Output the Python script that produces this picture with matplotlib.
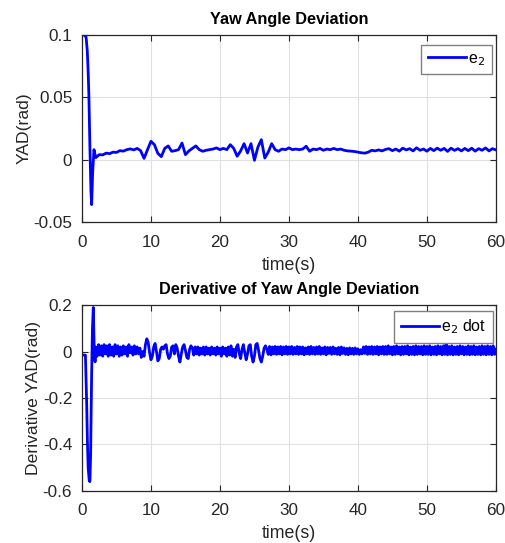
import numpy as np
import matplotlib
matplotlib.use("Agg")
import matplotlib.pyplot as plt

plt.rcParams['font.family'] = ['Liberation Sans', 'DejaVu Sans']

# ---- e2 (yaw angle deviation) ----
# start-up transient
e2_t0 = [0, 0.3, 0.6, 0.77, 0.9, 1.0, 1.15, 1.3, 1.4, 1.55, 1.74]
e2_v0 = [0.1, 0.1, 0.098, 0.087, 0.07, 0.052, 0.01, -0.025, -0.036, -0.01, 0.008]
# then sampled every 0.5 s from t = 2.0
e2_start, e2_dt = 2.0, 0.5
e2_v = [
    0.0016, 0.004, 0.0038, 0.0052, 0.0048, 0.006, 0.0058, 0.0072, 0.0068, 0.008,   # 2 - 6.5
    0.0086, 0.0078, 0.009, 0.0072, 0.001, 0.008, 0.0147, 0.012, 0.005, 0.0024,     # 7 - 11.5
    0.009, 0.011, 0.0067, 0.0072, 0.008, 0.0133, 0.004, 0.007, 0.009, 0.011,       # 12 - 16.5
    0.008, 0.0067, 0.0075, 0.008, 0.0085, 0.0094, 0.008, 0.009, 0.008, 0.012,      # 17 - 21.5
    0.009, 0.0027, 0.007, 0.0128, 0.0053, 0.0128, -0.0005, 0.01, 0.016, 0.0013,    # 22 - 26.5
    0.006, 0.0128, 0.008, 0.0067, 0.0085, 0.008, 0.0094, 0.008, 0.0085, 0.008,     # 27 - 31.5
    0.0085, 0.0107, 0.0067, 0.0085, 0.008, 0.009, 0.0075, 0.0085, 0.008, 0.009,    # 32 - 36.5
    0.008, 0.0085, 0.0075, 0.007, 0.0068, 0.0065, 0.006, 0.0055, 0.0052, 0.006,    # 37 - 41.5
    0.0075, 0.007, 0.0078, 0.007, 0.0082, 0.0088, 0.0072, 0.0085, 0.0068, 0.0092,  # 42 - 46.5
    0.0078, 0.0088, 0.007, 0.0095, 0.0075, 0.0085, 0.0068, 0.009, 0.0072, 0.0092,  # 47 - 51.5
    0.0075, 0.009, 0.0066, 0.0092, 0.0074, 0.0088, 0.007, 0.009, 0.0072, 0.0092,   # 52 - 56.5
    0.0068, 0.0088, 0.0075, 0.0094, 0.007, 0.0088, 0.0078,                         # 57 - 60
]

# ---- e2 dot (derivative) ----
de2_t0 = [0, 0.5, 0.68, 0.8, 0.9, 1.05, 1.15, 1.25, 1.4, 1.52, 1.64, 1.78, 1.9]
de2_v0 = [-0.015, -0.015, -0.22, -0.4, -0.5, -0.555, -0.56, -0.45, -0.1, 0.1, 0.19, 0.0, -0.044]
# then sampled every 0.2 s from t = 2.0
de2_start, de2_dt = 2.0, 0.2
de2_v = [
    0.02, -0.02, 0.03, -0.015, 0.025, -0.02, 0.03, -0.01, 0.025, -0.02,       # 2 - 4
    0.03, -0.015, 0.02, -0.02, 0.03, -0.01, 0.025, -0.02, 0.02, -0.015,       # 4 - 6
    0.025, -0.01, 0.02, -0.02, 0.03, -0.005, 0.02, -0.015, 0.025, -0.01,      # 6 - 8
    0.02, -0.01, 0.015, -0.025, 0.0, -0.02, 0.03, 0.055, 0.04, -0.005,        # 8 - 10
    -0.035, -0.02, 0.02, 0.035, 0.0, -0.04, -0.03, 0.01, 0.02, 0.01,          # 10 - 12
    0.025, 0.03, -0.01, -0.03, -0.02, 0.02, 0.025, -0.01, 0.03, 0.015,        # 12 - 14
    -0.02, -0.045, -0.01, 0.02, 0.03, 0.005, -0.025, -0.03, 0.01, 0.025,      # 14 - 16
    0.015, -0.015, 0.02, -0.01, 0.02, -0.015, 0.015, -0.01, 0.02, -0.015,     # 16 - 18
    0.02, -0.01, 0.015, -0.015, 0.02, -0.01, 0.015, -0.015, 0.02, -0.01,      # 18 - 20
    0.015, -0.02, 0.02, -0.01, 0.015, -0.02, 0.02, -0.015, 0.025, -0.02,      # 20 - 22
    0.01, -0.025, 0.02, 0.03, -0.01, -0.03, 0.01, 0.03, -0.005, -0.035,       # 22 - 24
    -0.01, 0.025, 0.03, -0.02, -0.045, -0.02, 0.03, 0.035, 0.005, -0.03,      # 24 - 26
    -0.045, -0.02, 0.015, 0.025, 0.01, -0.012, 0.022, -0.014, 0.02, -0.01,    # 26 - 28
    0.022, -0.012, 0.02, -0.01, 0.022, -0.014, 0.02, -0.01, 0.022, -0.012,    # 28 - 30
    0.02, -0.01, 0.022, -0.012, 0.018, -0.01, 0.022, -0.012, 0.02, -0.01,     # 30 - 32
    0.02, -0.014, 0.016, -0.01, 0.02, -0.012, 0.022, -0.01, 0.018, -0.012,    # 32 - 34
    0.02, -0.01, 0.022, -0.012, 0.016, -0.01, 0.02, -0.014, 0.018, -0.008,    # 34 - 36
    0.018, -0.012, 0.02, -0.01, 0.014, -0.012, 0.018, -0.014, 0.02, -0.008,   # 36 - 38
    0.016, -0.012, 0.014, -0.014, 0.016, -0.01, 0.014, -0.012, 0.016, -0.01,  # 38 - 40
    0.012, -0.012, 0.008, -0.01, 0.02, -0.008, 0.022, -0.012, 0.02, -0.01,    # 40 - 42
    0.022, -0.012, 0.02, -0.01, 0.022, -0.014, 0.02, -0.01, 0.022, -0.012,    # 42 - 44
    0.022, -0.012, 0.025, -0.01, 0.02, -0.014, 0.022, -0.012, 0.025, -0.01,   # 44 - 46
    0.02, -0.014, 0.022, -0.012, 0.022, -0.01, 0.025, -0.014, 0.02, -0.012,   # 46 - 48
    0.022, -0.014, 0.025, -0.012, 0.022, -0.01, 0.022, -0.014, 0.025, -0.012, # 48 - 50
    0.022, -0.012, 0.025, -0.014, 0.02, -0.012, 0.022, -0.014, 0.025, -0.01,  # 50 - 52
    0.022, -0.014, 0.025, -0.012, 0.035, -0.014, 0.022, -0.012, 0.025, -0.014,  # 52 - 54
    0.02, -0.012, 0.022, -0.014, 0.025, -0.01, 0.022, -0.014, 0.02, -0.012,   # 54 - 56
    0.025, -0.014, 0.022, -0.012, 0.025, -0.014, 0.02, -0.012, 0.022, -0.014, # 56 - 58
    0.025, -0.012, 0.022, -0.014, 0.025, -0.012, 0.022, -0.014, 0.025, -0.012,  # 58 - 60
    0.01,
]

e2_t = np.concatenate([e2_t0, e2_start + e2_dt * np.arange(len(e2_v))])
e2 = np.concatenate([e2_v0, e2_v])
de2_t = np.concatenate([de2_t0, de2_start + de2_dt * np.arange(len(de2_v))])
de2 = np.concatenate([de2_v0, de2_v])

axcol = (0.15, 0.15, 0.15)

fig = plt.figure(figsize=(5.06, 5.43), dpi=100)
ax1 = fig.add_axes([0.162, 0.591, 0.818, 0.345])
ax2 = fig.add_axes([0.162, 0.096, 0.818, 0.342])


def style(ax):
    ax.grid(True, color=(0.88, 0.88, 0.88), lw=0.8)
    ax.set_axisbelow(True)
    for s in ax.spines.values():
        s.set_color(axcol)
        s.set_linewidth(0.9)
    ax.tick_params(direction='in', length=4, width=0.8, colors=axcol,
                   labelsize=12.3, top=True, right=True, labelcolor=axcol)
    ax.tick_params(axis='x', pad=9)
    ax.tick_params(axis='y', pad=7)
    ax.set_xlim(0, 60)
    ax.set_xticks([0, 10, 20, 30, 40, 50, 60])
    ax.set_xlabel('time(s)', fontsize=12.8, color=axcol, labelpad=5)


ax1.plot(e2_t, e2, color='blue', lw=2, label='e$_2$')
style(ax1)
ax1.set_ylim(-0.05, 0.1)
ax1.set_yticks([-0.05, 0, 0.05, 0.1])
ax1.set_yticklabels(['-0.05', '0', '0.05', '0.1'])
ax1.set_ylabel('YAD(rad)', fontsize=12.6, color=axcol, labelpad=1)
ax1.set_title('Yaw Angle Deviation', fontsize=11.7, fontweight='bold', pad=8)
ax1.legend(loc='upper right', bbox_to_anchor=(0.99, 0.947), fontsize=11.5,
           fancybox=False, framealpha=1, edgecolor=(0.5, 0.5, 0.5),
           handlelength=2.4, borderaxespad=0, handletextpad=0.15)

ax2.plot(de2_t, de2, color='blue', lw=2, label='e$_2$ dot')
style(ax2)
ax2.set_ylim(-0.6, 0.2)
ax2.set_yticks([-0.6, -0.4, -0.2, 0, 0.2])
ax2.set_yticklabels(['-0.6', '-0.4', '-0.2', '0', '0.2'])
ax2.set_ylabel('Derivative YAD(rad)', fontsize=12.6, color=axcol, labelpad=1)
ax2.set_title('Derivative of Yaw Angle Deviation', fontsize=11.7, fontweight='bold', pad=8)
ax2.legend(loc='upper right', bbox_to_anchor=(0.993, 0.968), fontsize=11.5,
           fancybox=False, framealpha=1, edgecolor=(0.5, 0.5, 0.5),
           handlelength=2.4, borderaxespad=0, handletextpad=0.15)

fig.savefig('out.png', dpi=100, facecolor='white')
